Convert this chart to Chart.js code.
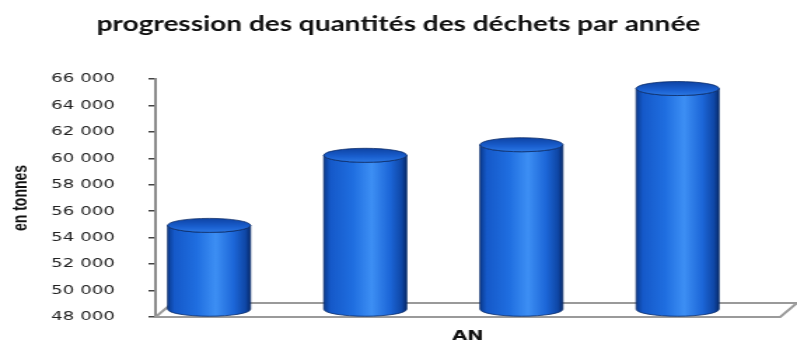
<!DOCTYPE html>
<html lang="fr">
<head>
<meta charset="utf-8">
<title>progression des quantités des déchets par année</title>
<script src="https://cdn.jsdelivr.net/npm/chart.js@4.4.1/dist/chart.umd.min.js"></script>
<style>
  html, body { margin: 0; padding: 0; background: #fff; overflow: hidden; }
</style>
</head>
<body>
<!-- drawn on a narrow canvas, shown widened like the original export -->
<canvas id="dechets" width="569" height="343" style="display:block;width:797px;height:343px"></canvas>
<script>
// quantités annuelles (tonnes), une colonne par année
const annees = ['', '', '', ''];
const quantites = [54400, 59700, 60500, 64750];

const yMin = 48000;
const yMax = 66000;
const yPas = 2000;

const titre = 'progression des quantités des déchets par année';
const titreY = 'en tonnes';
const titreX = 'AN';

function milliers(v) {
    return String(v).replace(/\B(?=(\d{3})+(?!\d))/g, ' ');
}

// 3D look: floor depth, lift of the cylinders above the front edge
const DEPTH_X = 12;
const DEPTH_Y = 14;
const LIFT = 7;
const BAR_SHIFT = -17.5;
const RY = 7;

// title centred on the whole canvas
const titrePlugin = {
    id: 'titre',
    afterDraw(chart) {
        const { ctx, width } = chart;
        ctx.save();
        ctx.font = 'bold 20px Lato';
        ctx.fillStyle = '#111';
        ctx.textAlign = 'center';
        ctx.textBaseline = 'alphabetic';
        ctx.fillText(titre, width / 2, 31);
        ctx.restore();
    }
};

const floorPlugin = {
    id: 'floor',
    beforeDatasetsDraw(chart) {
        const { ctx, chartArea: a } = chart;
        ctx.save();
        ctx.strokeStyle = '#9a9a9a';
        ctx.lineWidth = 2;
        ctx.beginPath();
        ctx.moveTo(a.left, a.bottom);
        ctx.lineTo(a.right, a.bottom);
        ctx.lineTo(a.right + DEPTH_X, a.bottom - DEPTH_Y);
        ctx.lineTo(a.left + DEPTH_X, a.bottom - DEPTH_Y);
        ctx.closePath();
        ctx.stroke();
        ctx.restore();
    }
};

const cylinderPlugin = {
    id: 'cylinders',
    afterDatasetsDraw(chart) {
        const { ctx } = chart;
        chart.getDatasetMeta(0).data.forEach(bar => {
            const { x, y, base, width } = bar.getProps(['x', 'y', 'base', 'width'], true);
            const cx = x + BAR_SHIFT;
            const rx = width / 2;
            const top = y - LIFT;
            const bot = base - LIFT;

            ctx.save();

            // body
            const g = ctx.createLinearGradient(cx - rx, 0, cx + rx, 0);
            g.addColorStop(0, '#0a3a8e');
            g.addColorStop(0.08, '#1559c9');
            g.addColorStop(0.35, '#1f6ee0');
            g.addColorStop(0.58, '#3d8ff4');
            g.addColorStop(0.8, '#1c66d8');
            g.addColorStop(0.94, '#0f47a6');
            g.addColorStop(1, '#072a6c');
            ctx.beginPath();
            ctx.moveTo(cx - rx, top);
            ctx.lineTo(cx - rx, bot);
            ctx.ellipse(cx, bot, rx, RY, 0, Math.PI, 0, true);
            ctx.lineTo(cx + rx, top);
            ctx.ellipse(cx, top, rx, RY, 0, 0, Math.PI, false);
            ctx.closePath();
            ctx.fillStyle = g;
            ctx.fill();
            ctx.strokeStyle = '#0a2c6a';
            ctx.lineWidth = 0.8;
            ctx.stroke();

            // top face
            const t = ctx.createLinearGradient(0, top - RY, 0, top + RY);
            t.addColorStop(0, '#0e43a4');
            t.addColorStop(0.6, '#1a5fcf');
            t.addColorStop(1, '#2b78e4');
            ctx.beginPath();
            ctx.ellipse(cx, top, rx, RY, 0, 0, Math.PI * 2);
            ctx.fillStyle = t;
            ctx.fill();
            ctx.strokeStyle = '#0a2c6a';
            ctx.stroke();

            ctx.restore();
        });
    }
};

new Chart(document.getElementById('dechets'), {
    type: 'bar',
    data: {
        labels: annees,
        datasets: [{
            data: quantites,
            base: yMin,
            backgroundColor: 'rgba(0,0,0,0)',
            borderWidth: 0,
            categoryPercentage: 1,
            barPercentage: 0.53
        }]
    },
    options: {
        responsive: false,
        devicePixelRatio: 1,
        animation: false,
        layout: { padding: { top: 79, right: 12, bottom: 0, left: 0 } },
        plugins: {
            legend: { display: false },
            tooltip: { enabled: false },
            title: { display: false }
        },
        scales: {
            x: {
                grid: { display: false },
                border: { display: false },
                ticks: { display: false },
                title: {
                    display: true,
                    text: titreX,
                    color: '#111',
                    font: { family: 'DejaVu Sans', size: 14, weight: 'bold', lineHeight: 1 },
                    padding: { top: 0, bottom: 0 }
                },
                afterFit(scale) { scale.height = 26; }
            },
            y: {
                min: yMin,
                max: yMax,
                ticks: {
                    stepSize: yPas,
                    padding: 24,
                    color: '#222',
                    font: { family: 'DejaVu Sans', size: 13 },
                    callback: v => milliers(v)
                },
                grid: {
                    drawOnChartArea: false,
                    drawTicks: true,
                    tickLength: 5,
                    color: '#444',
                    lineWidth: 1.5
                },
                border: { display: true, color: '#8c8c8c', width: 2 },
                title: {
                    display: true,
                    text: titreY,
                    color: '#111',
                    font: { family: 'Liberation Sans', size: 14, weight: 'bold', lineHeight: 1 },
                    padding: { top: 8, bottom: 0 }
                },
                afterFit(scale) {
                    // fixed axis width; the label padding must not shrink the plot vertically
                    scale.width = 111;
                    scale.paddingTop = 0;
                    scale.paddingBottom = 0;
                }
            }
        }
    },
    plugins: [titrePlugin, floorPlugin, cylinderPlugin]
});
</script>
</body>
</html>
